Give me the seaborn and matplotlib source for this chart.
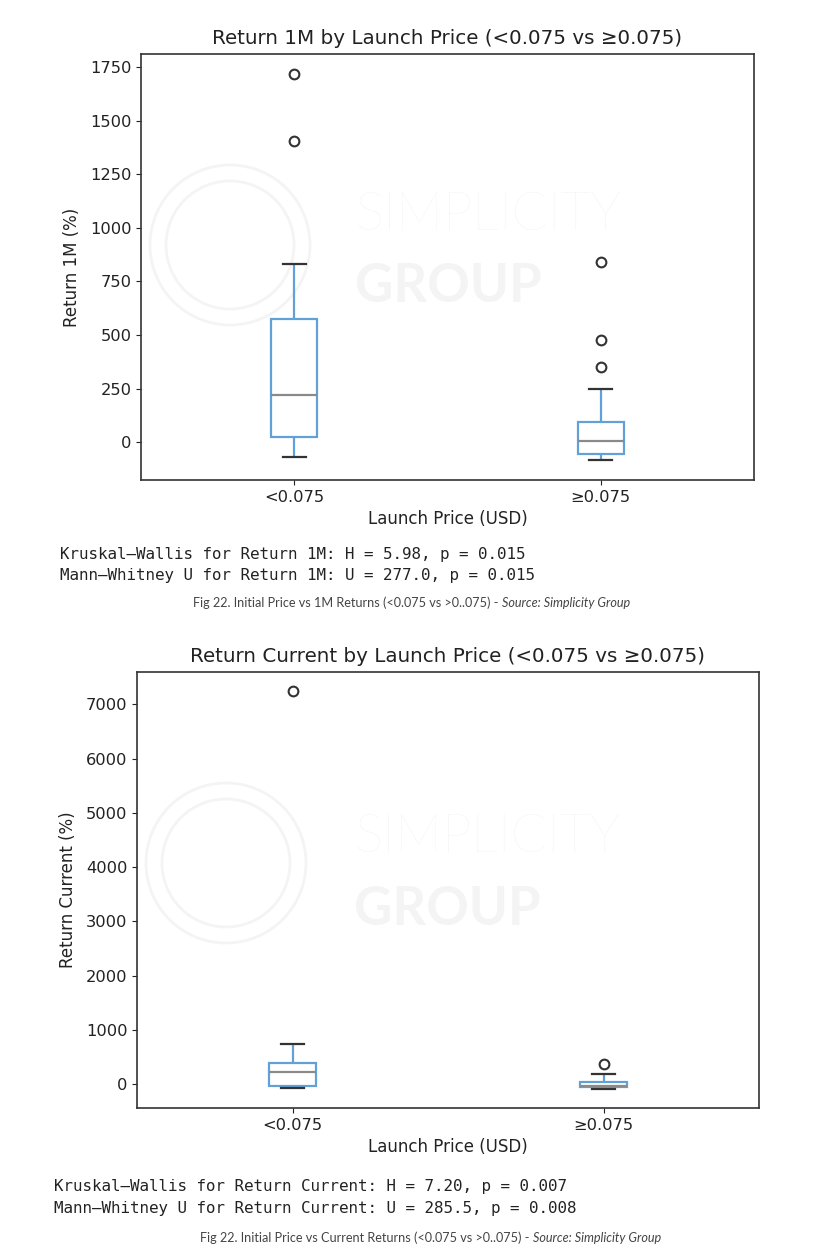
import numpy as np
import pandas as pd
import matplotlib
matplotlib.use("Agg")
import matplotlib.pyplot as plt
from matplotlib.patches import Ellipse
import seaborn as sns

# ---------------- data ----------------
categories = ["<0.075", "≥0.075"]

# Return 1M (%) per launch-price group (values consistent with the box summaries)
ret1m_low = [-70, -30, 5, 26, 90, 160, 221, 330, 450, 574, 832, 1406, 1720]
ret1m_high = [-83, -75, -68, -62, -56, -40, -25, -10, 6, 20, 45, 70, 93, 247, 353, 479, 843]

# Return Current (%) per launch-price group
retcur_low = [-80, -60, -40, 100, 230, 310, 385, 745, 7240]
retcur_high = [-85, -70, -55, -48, -40, -10, 45, 185, 370]

title_1m = "Return 1M by Launch Price (<0.075 vs ≥0.075)"
title_cur = "Return Current by Launch Price (<0.075 vs ≥0.075)"
ylabel_1m = "Return 1M (%)"
ylabel_cur = "Return Current (%)"
xlabel = "Launch Price (USD)"
yticks_1m = [0, 250, 500, 750, 1000, 1250, 1500, 1750]
yticks_cur = [0, 1000, 2000, 3000, 4000, 5000, 6000, 7000]

stats_1m = ["Kruskal–Wallis for Return 1M: H = 5.98, p = 0.015",
            "Mann–Whitney U for Return 1M: U = 277.0, p = 0.015"]
stats_cur = ["Kruskal–Wallis for Return Current: H = 7.20, p = 0.007",
             "Mann–Whitney U for Return Current: U = 285.5, p = 0.008"]
cap_1m = "Fig 22. Initial Price vs 1M Returns (<0.075 vs >0..075) - "
cap_cur = "Fig 22. Initial Price vs Current Returns (<0.075 vs >0..075) - "
cap_src = "Source: Simplicity Group"


def frame(low, high):
    return pd.DataFrame({
        "group": [categories[0]] * len(low) + [categories[1]] * len(high),
        "value": list(low) + list(high),
    })


df1 = frame(ret1m_low, ret1m_high)
df2 = frame(retcur_low, retcur_high)

# ---------------- style ----------------
plt.rcParams["font.family"] = ["DejaVu Sans"]
W, H = 828, 1260
fig = plt.figure(figsize=(W / 100, H / 100), dpi=100)
fig.patch.set_facecolor("white")

BLUE = "#62a0d8"
DARK = "#333333"
MED = "#8a8a8a"
TXT = "#222222"
WM = "#f4f4f4"


def px_axes(l, t, r, b):
    return fig.add_axes([l / W, 1 - b / H, (r - l) / W, (b - t) / H])


def draw(ax, df, title, ylabel, yticks, ylim, l, t, r, b):
    # faint watermark
    aw, ah = r - l, b - t
    cx, cy = 230 - 141 + l, 245 - 54 + t
    for rad in (80, 64):
        ax.add_patch(Ellipse(((cx - l) / aw, 1 - (cy - t) / ah), 2 * rad / aw, 2 * rad / ah,
                             transform=ax.transAxes, fill=False, edgecolor=WM,
                             linewidth=2, zorder=0))
    ax.text((355 - 141) / 613, 0.62, "SIMPLICITY", transform=ax.transAxes, fontsize=38,
            color=WM, ha="left", va="center", fontweight="light",
            zorder=0, family="Lato")
    ax.text((355 - 141) / 613, 0.455, "GROUP", transform=ax.transAxes, fontsize=38,
            color=WM, ha="left", va="center", fontweight="bold",
            zorder=0, family="Lato")

    sns.boxplot(
        data=df, x="group", y="value", order=categories, ax=ax,
        width=0.15, fill=True, color="white",
        boxprops=dict(facecolor="white", edgecolor=BLUE, linewidth=1.6),
        whiskerprops=dict(color=BLUE, linewidth=1.6),
        capprops=dict(color=DARK, linewidth=1.6),
        medianprops=dict(color=MED, linewidth=1.6),
        flierprops=dict(marker="o", markerfacecolor="none", markeredgecolor=DARK,
                        markersize=7, markeredgewidth=1.5),
    )
    ax.set_xlim(-0.5, 1.5)
    ax.set_ylim(*ylim)
    ax.set_yticks(yticks)
    ax.set_title(title, fontsize=14.3, color=TXT, pad=7)
    ax.set_ylabel(ylabel, fontsize=12, color=TXT, labelpad=6)
    ax.set_xlabel(xlabel, fontsize=12, color=TXT)
    ax.tick_params(labelsize=11.7, colors=TXT)
    for s in ax.spines.values():
        s.set_color("#333333")
        s.set_linewidth(1.2)


ax1 = px_axes(141, 54, 754, 480)
draw(ax1, df1, title_1m, ylabel_1m, yticks_1m, (-176, 1811), 141, 54, 754, 480)

ax2 = px_axes(137, 672, 759, 1108)
draw(ax2, df2, title_cur, ylabel_cur, yticks_cur, (-442, 7596), 137, 672, 759, 1108)


def ftext(x, y, s, **kw):
    fig.text(x / W, 1 - y / H, s, **kw)


MONO = dict(family="DejaVu Sans Mono", fontsize=11.4, va="center", color=TXT)
ftext(60, 554, stats_1m[0], **MONO)
ftext(60, 576, stats_1m[1], **MONO)
ftext(54, 1187, stats_cur[0], **MONO)
ftext(54, 1208, stats_cur[1], **MONO)


def caption(x_left, y, main):
    t = fig.text(x_left / W, 1 - y / H, main, family="Lato", fontsize=9.1,
                 va="center", ha="left", color="#444444")
    fig.canvas.draw()
    bb = t.get_window_extent()
    fig.text(bb.x1 / W, 1 - y / H, cap_src, family="Lato", fontsize=9.1,
             va="center", ha="left", color="#444444", style="italic")


caption(193, 603, cap_1m)
caption(200, 1238, cap_cur)

fig.savefig("out.png", dpi=100, facecolor="white")
